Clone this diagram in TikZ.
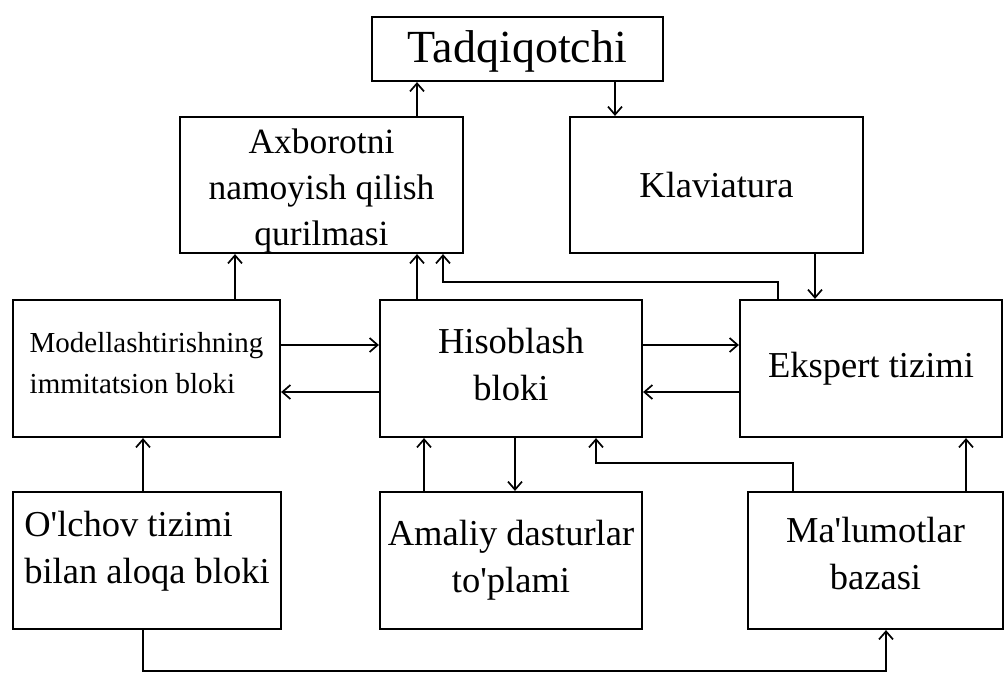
\documentclass[tikz,border=0pt]{standalone}
\usepackage{fontspec}
\setmainfont{Liberation Serif}
\usetikzlibrary{arrows.meta}

\begin{document}
\begin{tikzpicture}[x=1pt,y=-1pt,
  blk/.style={draw, line width=2.2pt, inner sep=0pt, align=center,
              font=\fontsize{36.5}{47}\selectfont},
  arr/.style={line width=1.9pt,
              -{Straight Barb[length=8pt,width=14pt,line width=1.7pt]}}
]
\useasboundingbox (0,0) rectangle (1006,673);

% blocks
\node[blk, minimum width=291pt, minimum height=64pt,
      font=\fontsize{46}{55}\selectfont] (tad) at (517.5,49)
      {\rule{0pt}{37pt}Tadqiqotchi};
\node[blk, minimum width=283pt, minimum height=136pt,
      font=\fontsize{35.5}{46}\selectfont] (axb) at (321.5,185)
      {\rule{0pt}{36pt}Axborotni\\namoyish qilish\\qurilmasi};
\node[blk, minimum width=293pt, minimum height=136pt] (kla) at (716.5,185) {Klaviatura};
\node[blk, minimum width=267pt, minimum height=137pt, align=left,
      font=\fontsize{29}{41}\selectfont] (mod) at (146.5,368.5)
      {Modellashtirishning\\immitatsion bloki\rule[-12pt]{0pt}{12pt}};
\node[blk, minimum width=262pt, minimum height=137pt] (his) at (511,368.5)
      {Hisoblash\\bloki\rule[-9pt]{0pt}{9pt}};
\node[blk, minimum width=262pt, minimum height=137pt] (eks) at (871,368.5) {Ekspert tizimi};
\node[blk, minimum width=268pt, minimum height=137pt, align=left] (olc) at (147,560.5)
      {O\textquotesingle lchov tizimi\\bilan aloqa bloki\rule[-26pt]{0pt}{26pt}};
\node[blk, minimum width=262pt, minimum height=137pt] (ama) at (511,560.5)
      {Amaliy dasturlar\\to\textquotesingle plami};
\node[blk, minimum width=255pt, minimum height=137pt] (mal) at (875.5,560.5)
      {Ma\textquotesingle lumotlar\\bazasi\rule[-15pt]{0pt}{15pt}};

% bend points of the routed connectors
\coordinate (k1) at (443,282);
\coordinate (k2) at (596,463);
\coordinate (k3) at (886,671);

% connectors
\draw[arr] ([xshift=95.5pt]axb.north) -- ([xshift=95.5pt]axb.north |- tad.south);
\draw[arr] ([xshift=-101.5pt]kla.north |- tad.south) -- ([xshift=-101.5pt]kla.north);
\draw[arr] ([xshift=98.5pt]kla.south) -- ([xshift=98.5pt]kla.south |- eks.north);
\draw[arr] ([xshift=88.5pt]mod.north) -- ([xshift=88.5pt]mod.north |- axb.south);
\draw[arr] ([xshift=-94pt]his.north) -- ([xshift=-94pt]his.north |- axb.south);
\draw[arr] ([xshift=-93pt]eks.north) |- (k1) -- (k1 |- axb.south);

\draw[arr] ([yshift=23.5pt]mod.east) -- ([yshift=23.5pt]mod.east -| his.west);
\draw[arr] ([yshift=-23.5pt]his.west) -- ([yshift=-23.5pt]his.west -| mod.east);
\draw[arr] ([yshift=23.5pt]his.east) -- ([yshift=23.5pt]his.east -| eks.west);
\draw[arr] ([yshift=-23.5pt]eks.west) -- ([yshift=-23.5pt]eks.west -| his.east);

\draw[arr] ([xshift=-4pt]olc.north) -- ([xshift=-4pt]olc.north |- mod.south);
\draw[arr] ([xshift=-87pt]ama.north) -- ([xshift=-87pt]ama.north |- his.south);
\draw[arr] ([xshift=4pt]his.south) -- ([xshift=4pt]his.south |- ama.north);
\draw[arr] ([xshift=-82.5pt]mal.north) |- (k2) -- (k2 |- his.south);
\draw[arr] ([xshift=90.5pt]mal.north) -- ([xshift=90.5pt]mal.north |- eks.south);
\draw[arr] ([xshift=-4pt]olc.south) |- (k3) -- (k3 |- mal.south);
\end{tikzpicture}
\end{document}
